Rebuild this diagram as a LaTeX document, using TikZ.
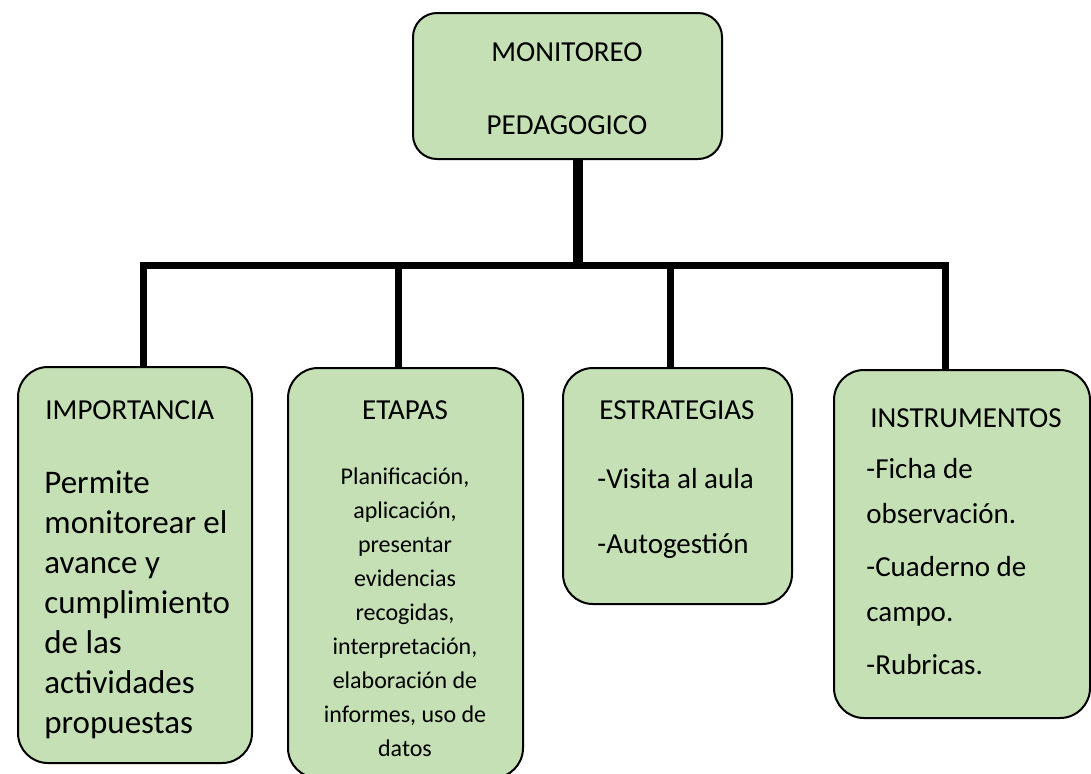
\documentclass[tikz,border=0pt]{standalone}
\usepackage{fontspec}
\setmainfont{Carlito}
\usetikzlibrary{positioning}
\definecolor{boxgreen}{RGB}{197,224,180}

\begin{document}
\begin{tikzpicture}[x=0.5pt, y=-0.5pt,
  box/.style={draw=black, line width=1pt, fill=boxgreen, rounded corners=15pt, inner sep=0pt},
  link/.style={line width=3.5pt},
  heading/.style={font=\fontsize{14.5}{17}\selectfont, inner sep=0pt},
  bodytext/.style={font=\fontsize{14.5}{22.5}\selectfont, inner sep=0pt, align=left}]
\useasboundingbox (0,0) rectangle (1091,773);
% boxes
\node[box, minimum width=154.5pt, minimum height=73pt, rounded corners=12pt] (top) at (567.5,86) {};
\node[box, minimum width=117pt, minimum height=198pt] (imp) at (135,565) {};
\node[box, minimum width=117.5pt, minimum height=205pt] (eta) at (405.5,573) {};
\node[box, minimum width=114.5pt, minimum height=118pt] (est) at (677.5,486) {};
\node[box, minimum width=128pt, minimum height=174pt] (ins) at (962,544) {};
% texts
\node[heading] (topA) at (567,52) {MONITOREO};
\node[heading] (topB) at (567,125) {PEDAGOGICO};
\node[heading, anchor=west] (impT) at (45,410) {IMPORTANCIA};
\node[bodytext, font=\fontsize{16.5}{20}\selectfont, anchor=north west] (impB) at (44,470)
  {Permite\\monitorear el\\avance y\\cumplimiento\\de las\\actividades\\propuestas};
\node[heading] (etaT) at (405,410) {ETAPAS};
\node[bodytext, font=\fontsize{12}{17}\selectfont, align=center, anchor=north] (etaB) at (405,467)
  {Planificación,\\aplicación,\\presentar\\evidencias\\recogidas,\\interpretación,\\elaboración de\\informes, uso de\\datos};
\node[heading] (estT) at (677,410) {ESTRATEGIAS};
\node[bodytext, font=\fontsize{14.5}{32.5}\selectfont, anchor=north west] (estB) at (597,468)
  {-Visita al aula\\-Autogestión};
\node[heading] (insT) at (966,418) {INSTRUMENTOS};
\node[bodytext, anchor=north west] (insB) at (866,458)
  {-Ficha de\\observación.\\[4pt]-Cuaderno de\\campo.\\[4pt]-Rubricas.};
% connectors
\coordinate (jt) at (578,265);
\coordinate (j1) at (143,265);
\coordinate (j2) at (398,265);
\coordinate (j3) at (670,265);
\coordinate (j4) at (945,265);
\draw[line width=5pt] (jt |- top.south) -- (jt);
\draw[link] (j1 |- imp.north) -- (j1) -- (j4) -- (j4 |- ins.north);
\draw[link] (j2) -- (j2 |- eta.north);
\draw[link] (j3) -- (j3 |- est.north);
\end{tikzpicture}
\end{document}
